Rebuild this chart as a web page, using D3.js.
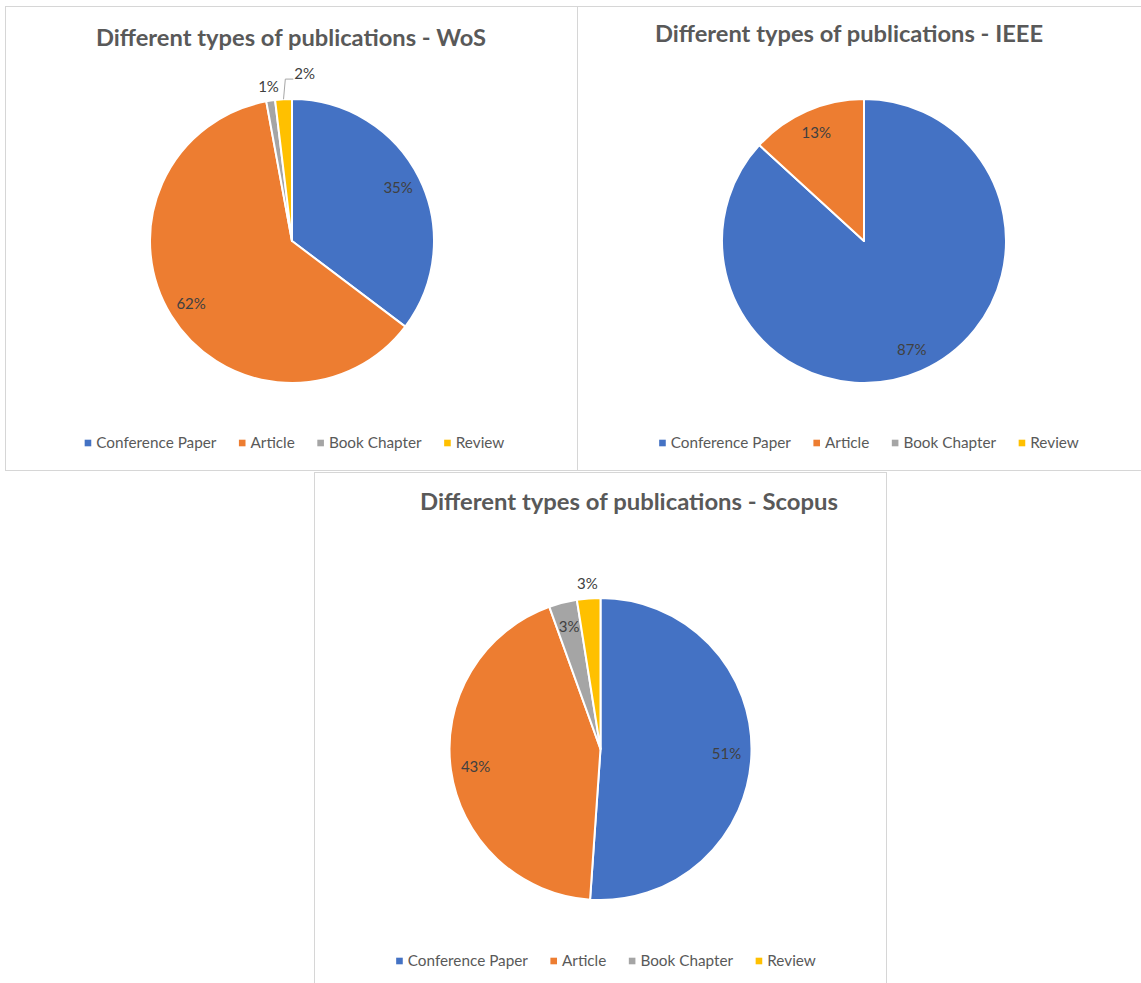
<!DOCTYPE html>
<html>
<head>
<meta charset="utf-8">
<script src="https://cdn.jsdelivr.net/npm/d3@7"></script>
<style>
  html, body { margin: 0; padding: 0; background: #ffffff; }
  svg { display: block; }
</style>
</head>
<body>
<svg id="chart" width="1141" height="983"></svg>
<script>
// ---------- data ----------
const categories = ["Conference Paper", "Article", "Book Chapter", "Review"];
const wosValues = [35.3, 61.8, 1.0, 1.9];
const ieeeValues = [86.8, 13.2, 0, 0];
const scopusValues = [51.1, 43.4, 3.0, 2.5];
const chartTitles = [
  "Different types of publications - WoS",
  "Different types of publications - IEEE",
  "Different types of publications - Scopus"
];

// ---------- styles ----------
const sliceColors = ["#4472C4", "#ED7D31", "#A5A5A5", "#FFC000"];
const FONT = "Lato, 'Open Sans', sans-serif";

// ---------- layout ----------
const panels = [
  { values: wosValues, title: chartTitles[0],
    box: { x: 5.5, y: 6.5, w: 572, h: 464 },
    cx: 292, cy: 241, r: 142,
    titleX: 291, titleY: 46, titleW: 390,
    legendCX: 294.5, legendY: 443,
    nudge: { 3: { dx: 22, dy: -11, leader: true } } },
  { values: ieeeValues, title: chartTitles[1],
    box: { x: 577.5, y: 6.5, w: 600, h: 464 },
    cx: 864, cy: 241, r: 142,
    titleX: 849, titleY: 42, titleW: 388,
    legendCX: 869, legendY: 443,
    nudge: {} },
  { values: scopusValues, title: chartTitles[2],
    box: { x: 314.5, y: 472.5, w: 572, h: 540 },
    cx: 600.5, cy: 749, r: 151,
    titleX: 629, titleY: 510, titleW: 418,
    legendCX: 606, legendY: 961,
    nudge: {} }
];

const svg = d3.select("#chart");

panels.forEach(p => {
  const g = svg.append("g");

  // panel frame
  g.append("rect")
    .attr("x", p.box.x).attr("y", p.box.y)
    .attr("width", p.box.w).attr("height", p.box.h)
    .attr("fill", "#ffffff")
    .attr("stroke", "#d6d6d6").attr("stroke-width", 1);

  // title
  g.append("text")
    .attr("x", p.titleX).attr("y", p.titleY)
    .attr("text-anchor", "middle")
    .attr("font-family", FONT)
    .attr("font-weight", "bold")
    .attr("font-size", 23.5)
    .attr("fill", "#595959")
    .attr("textLength", p.titleW)
    .attr("lengthAdjust", "spacingAndGlyphs")
    .text(p.title);

  // pie
  const pie = d3.pie().sort(null).value(d => d)(p.values);
  const arc = d3.arc().innerRadius(0).outerRadius(p.r);
  const total = d3.sum(p.values);

  const pg = g.append("g").attr("transform", `translate(${p.cx},${p.cy})`);
  pg.selectAll("path.slice")
    .data(pie.filter(d => d.value > 0))
    .join("path")
    .attr("class", "slice")
    .attr("d", arc)
    .attr("fill", d => sliceColors[d.index])
    .attr("stroke", "#ffffff")
    .attr("stroke-width", 2)
    .attr("stroke-linejoin", "round");

  // data labels
  pie.filter(d => d.value > 0).forEach(d => {
    const mid = (d.startAngle + d.endAngle) / 2;
    const labelText = Math.round(d.value / total * 100) + "%";
    const arcLen = (d.endAngle - d.startAngle) * p.r * 0.85;
    const inside = arcLen >= 22;
    const rr = inside ? p.r * 0.835 : p.r * 1.1;
    let x = Math.sin(mid) * rr;
    let y = -Math.cos(mid) * rr;
    const nd = p.nudge[d.index];
    if (nd) {
      x += nd.dx; y += nd.dy;
    }
    const t = pg.append("text")
      .attr("x", x).attr("y", y)
      .attr("dy", "0.35em")
      .attr("text-anchor", "middle")
      .attr("font-family", FONT)
      .attr("font-size", 15)
      .attr("fill", "#404040")
      .text(labelText);
    if (nd && nd.leader) {
      const w = t.node().getComputedTextLength();
      const ax = Math.sin(mid) * p.r, ay = -Math.cos(mid) * p.r;
      const left = x - w / 2 - 1;
      const ly = y + 5;
      pg.append("polyline")
        .attr("points", `${ax},${ay} ${left - 8},${ly} ${left},${ly}`)
        .attr("fill", "none")
        .attr("stroke", "#a6a6a6")
        .attr("stroke-width", 1);
    }
  });

  // legend
  const lg = g.append("g");
  const items = categories.map((c, i) => {
    const tt = lg.append("text")
      .attr("font-family", FONT)
      .attr("font-size", 15.3)
      .attr("fill", "#595959")
      .attr("dy", "0.35em")
      .attr("y", p.legendY)
      .text(c);
    return { t: tt, w: tt.node().getComputedTextLength(), i };
  });
  const sq = 6.6, gapSq = 5, gapItem = 22.5;
  const totalW = d3.sum(items, it => sq + gapSq + it.w) + gapItem * (items.length - 1);
  let cur = p.legendCX - totalW / 2;
  items.forEach(it => {
    lg.append("rect")
      .attr("x", cur).attr("y", p.legendY - sq / 2)
      .attr("width", sq).attr("height", sq)
      .attr("fill", sliceColors[it.i]);
    it.t.attr("x", cur + sq + gapSq);
    cur += sq + gapSq + it.w + gapItem;
  });
});
</script>
</body>
</html>
